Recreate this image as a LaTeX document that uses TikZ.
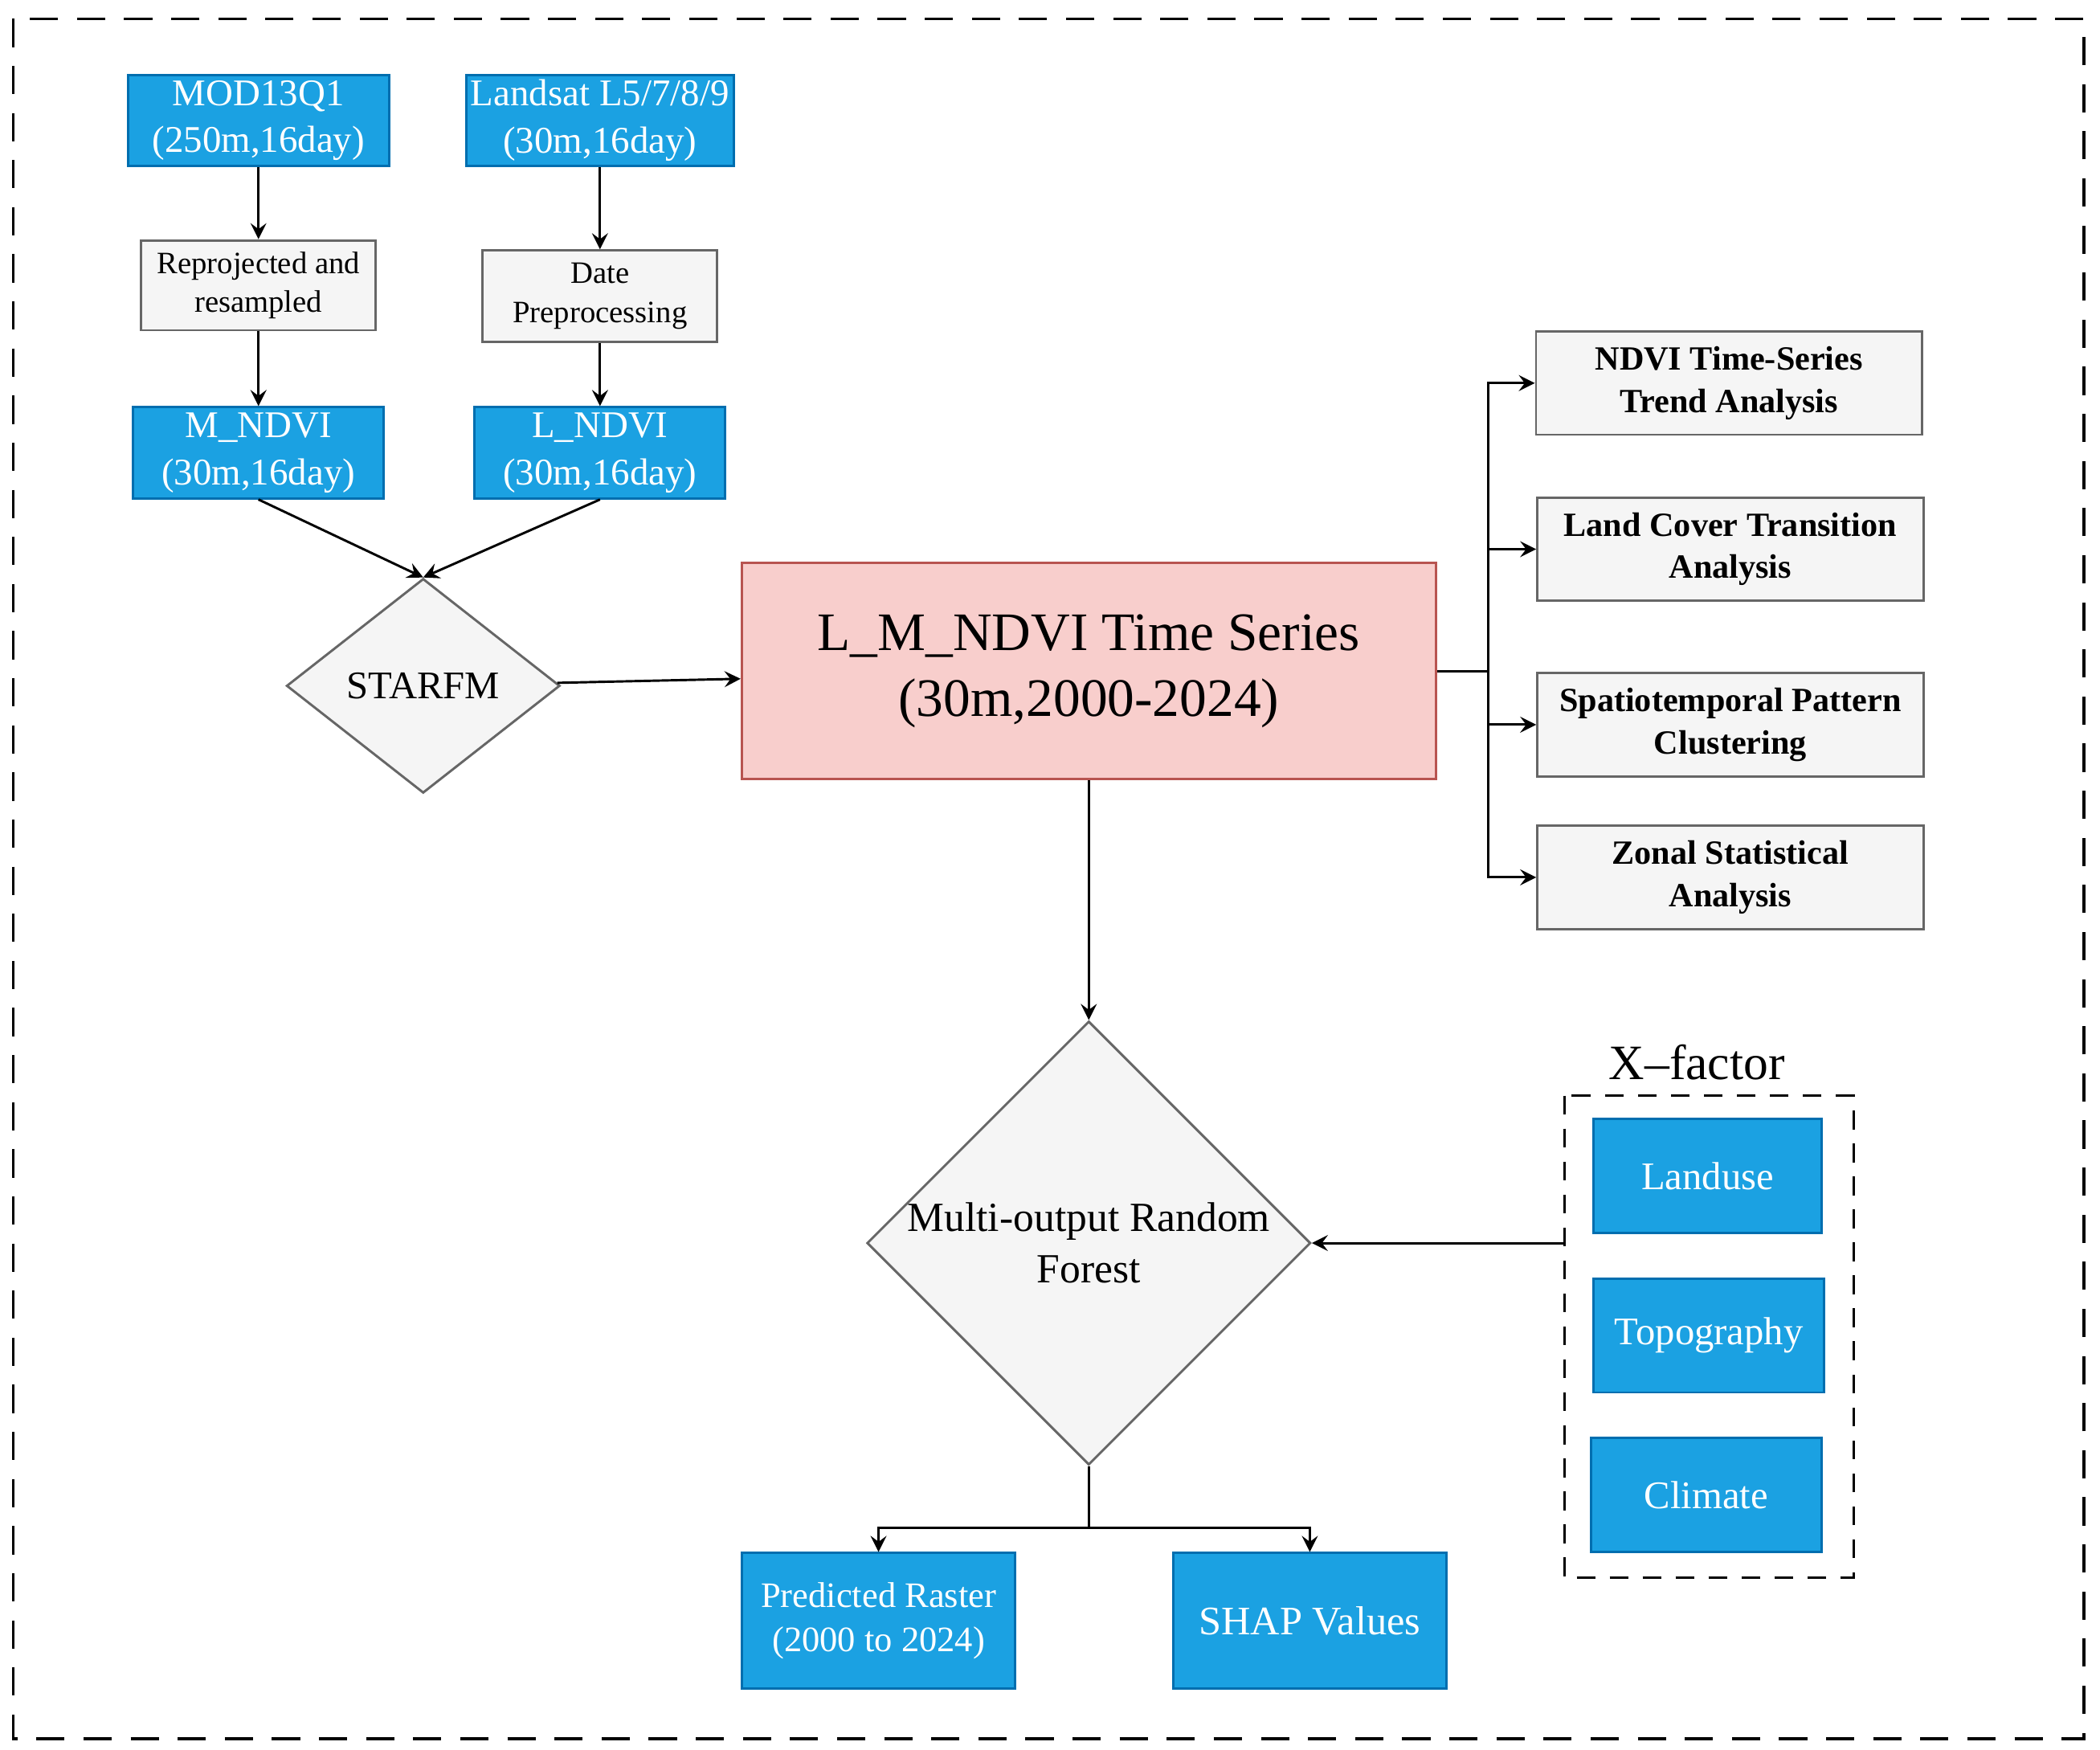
\documentclass[tikz,border=0pt]{standalone}
\usepackage{fontspec}
\setmainfont{Liberation Serif}
\usetikzlibrary{positioning,arrows,shapes.geometric,calc}
\definecolor{boxblue}{HTML}{1BA1E2}
\definecolor{boxblueline}{HTML}{006EAF}
\definecolor{boxgray}{HTML}{F5F5F5}
\definecolor{boxgrayline}{HTML}{666666}
\definecolor{boxpink}{HTML}{F8CECC}
\definecolor{boxpinkline}{HTML}{B85450}
\tikzset{
  bluebox/.style  = {shape=rectangle, draw=boxblueline, fill=boxblue,
                     text=white, align=center, inner sep=1pt},
  graybox/.style  = {shape=rectangle, draw=boxgrayline, fill=boxgray,
                     align=center, inner sep=1pt},
  taskbox/.style  = {graybox, font=\fontsize{7.2}{9}\selectfont\bfseries,
                     minimum width=2.88cm, minimum height=0.77cm},
  mainbox/.style  = {shape=rectangle, draw=boxpinkline, fill=boxpink,
                     align=center, font=\fontsize{11.5}{14}\selectfont},
  decision/.style = {shape=diamond, draw=boxgrayline, fill=boxgray,
                     align=center, inner sep=0pt}
}
\begin{document}
\begin{tikzpicture}[->,>=stealth,x=0.01cm,y=-0.01cm,line width=0.5pt]
\useasboundingbox (0,0) rectangle (1568,1306);
\draw[-,dashed,line width=0.6pt,dash pattern=on 6pt off 4pt] (10,14) rectangle (1556,1298);
% inputs
\node [bluebox, minimum width=1.95cm, minimum height=0.68cm, font=\fontsize{8}{10}\selectfont]
  (modis) at (193,90) {MOD13Q1\\(250m,16day)};
\node [bluebox, minimum width=1.96cm, minimum height=0.68cm, font=\fontsize{8}{10}\selectfont]
  (landsat) at (448,90) {Landsat L5/7/8/9\\(30m,16day)};
\node [graybox, minimum width=1.75cm, minimum height=0.67cm, font=\fontsize{6.6}{8.3}\selectfont]
  (reproj) at (193,213) {Reprojected and\\resampled};
\node [graybox, minimum width=1.75cm, minimum height=0.68cm, font=\fontsize{6.6}{8.3}\selectfont]
  (prep) at (448,221) {Date\\Preprocessing};
\node [bluebox, minimum width=1.87cm, minimum height=0.68cm, font=\fontsize{8}{10}\selectfont]
  (mndvi) at (193,338) {M\_NDVI\\(30m,16day)};
\node [bluebox, minimum width=1.87cm, minimum height=0.68cm, font=\fontsize{8}{10}\selectfont]
  (lndvi) at (448,338) {L\_NDVI\\(30m,16day)};
\node [decision, minimum width=2.04cm, minimum height=1.6cm, font=\fontsize{8.3}{10}\selectfont]
  (starfm) at (316,512) {STARFM};
\node [mainbox, minimum width=5.18cm, minimum height=1.61cm]
  (series) at (813,501) {L\_M\_NDVI Time Series\\(30m,2000-2024)};
% analyses
\node [taskbox] (trend) at (1291,286) {NDVI Time-Series\\Trend Analysis};
\node [taskbox] (cover) at (1292,410) {Land Cover Transition\\Analysis};
\node [taskbox] (cluster) at (1292,541) {Spatiotemporal Pattern\\Clustering};
\node [taskbox] (zonal) at (1292,655) {Zonal Statistical\\Analysis};
% model
\node [decision, minimum width=3.2cm, minimum height=2.72cm, font=\fontsize{8.8}{11}\selectfont]
  (forest) at (813,928) {Multi-output Random\\Forest};
\node [font=\fontsize{10.5}{12}\selectfont] (xlabel) at (1267,793) {X--factor};
\draw [-,dashed,dash pattern=on 4pt off 3pt] (1168,818) rectangle (1384,1178);
\coordinate (xin) at (1168,928);
\node [bluebox, minimum width=1.7cm, minimum height=0.85cm, font=\fontsize{8.3}{10}\selectfont]
  (landuse) at (1275,878) {Landuse};
\node [bluebox, minimum width=1.72cm, minimum height=0.85cm, font=\fontsize{8.3}{10}\selectfont]
  (topo) at (1276,997) {Topography};
\node [bluebox, minimum width=1.72cm, minimum height=0.85cm, font=\fontsize{8.3}{10}\selectfont]
  (climate) at (1274,1116) {Climate};
\node [bluebox, minimum width=2.04cm, minimum height=1.01cm, font=\fontsize{7.6}{9.5}\selectfont]
  (raster) at (656,1210) {Predicted Raster\\(2000 to 2024)};
\node [bluebox, minimum width=2.04cm, minimum height=1.01cm, font=\fontsize{8.6}{10}\selectfont]
  (shap) at (978,1210) {SHAP Values};
% connectors
\draw (modis) -- (reproj);
\draw (reproj) -- (mndvi);
\draw (landsat) -- (prep);
\draw (prep) -- (lndvi);
\draw (mndvi.south) -- (starfm.north);
\draw (lndvi.south) -- (starfm.north);
\draw (starfm) -- (series);
\draw (series) -- (forest);
\draw [-] (series.east) -- ++(38,0) coordinate (fork);
\foreach \t in {trend,cover,cluster,zonal}
  \draw (fork) |- (\t.west);
\draw (xin) -- (forest.east);
\draw [-] (forest.south) -- ++(0,46) coordinate (split);
\draw (split) -| (raster.north);
\draw (split) -| (shap.north);
\end{tikzpicture}
\end{document}
